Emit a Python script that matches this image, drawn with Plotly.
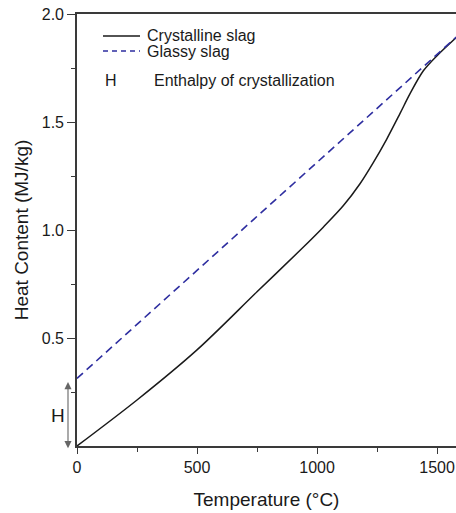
import plotly.graph_objects as go

# Data
glassy_T = [0, 1580]
glassy_H = [0.313, 1.893]

cryst_T = [0, 250, 500, 750, 936, 1026, 1110, 1179, 1235, 1290, 1346, 1387, 1443, 1499, 1580]
cryst_H = [0.0, 0.213, 0.445, 0.714, 0.913, 1.013, 1.113, 1.214, 1.313, 1.420, 1.540, 1.630, 1.737, 1.806, 1.891]

x_ticks = [0, 500, 1000, 1500]
y_ticks = [0.5, 1.0, 1.5, 2.0]
y_ticklabels = ["0.5", "1.0", "1.5", "2.0"]

enthalpy_bottom = 0.0
enthalpy_top = 0.313

FONT = "Liberation Sans, Arial, sans-serif"
AXC = "#3a3a3a"

fig = go.Figure()
fig.add_trace(go.Scatter(x=cryst_T, y=cryst_H, mode="lines",
                         line=dict(color="#1a1a1a", width=1.5, shape="spline", smoothing=0.9),
                         name="Crystalline slag", showlegend=False))
fig.add_trace(go.Scatter(x=glassy_T, y=glassy_H, mode="lines",
                         line=dict(color="#2e2ea0", width=1.6, dash="8px,5px"),
                         name="Glassy slag", showlegend=False))

# custom legend (paper coords)
def pxx(px):
    return (px - 77) / 379.0

def pxy(py):
    return (446 - py) / 432.0

fig.add_shape(type="line", xref="paper", yref="paper", x0=pxx(103), x1=pxx(140), y0=pxy(36), y1=pxy(36),
              line=dict(color="#1a1a1a", width=1.5))
fig.add_shape(type="line", xref="paper", yref="paper", x0=pxx(103), x1=pxx(140), y0=pxy(51), y1=pxy(51),
              line=dict(color="#2e2ea0", width=1.6, dash="5px,4px"))
legend_font = dict(family=FONT, size=16, color="#1a1a1a")
fig.add_annotation(xref="paper", yref="paper", x=pxx(145), y=pxy(35), text="Crystalline slag",
                   showarrow=False, xanchor="left", yanchor="middle", font=legend_font)
fig.add_annotation(xref="paper", yref="paper", x=pxx(145), y=pxy(52), text="Glassy slag",
                   showarrow=False, xanchor="left", yanchor="middle", font=legend_font)
fig.add_annotation(xref="paper", yref="paper", x=pxx(103), y=pxy(80), text="H",
                   showarrow=False, xanchor="left", yanchor="middle", font=legend_font)
fig.add_annotation(xref="paper", yref="paper", x=pxx(152), y=pxy(80), text="Enthalpy of crystallization",
                   showarrow=False, xanchor="left", yanchor="middle", font=legend_font)

# enthalpy double arrow
fig.add_annotation(xref="paper", yref="y", axref="pixel", ayref="y",
                   x=pxx(68), y=enthalpy_bottom - 0.01, ax=0, ay=enthalpy_top - 0.01,
                   text="", showarrow=True, arrowside="end+start", arrowhead=2, arrowsize=1.3,
                   arrowwidth=1.1, arrowcolor="#666666")
fig.add_annotation(xref="paper", yref="paper", x=pxx(57.5), y=pxy(415), text="H",
                   xanchor="center", yanchor="middle",
                   showarrow=False, font=dict(family=FONT, size=19, color="#1a1a1a"))

fig.update_layout(
    width=456, height=513,
    margin=dict(l=77, r=0, t=14, b=67),
    plot_bgcolor="white", paper_bgcolor="white",
    font=dict(family=FONT, color="#1a1a1a"),
    xaxis=dict(range=[0, 1579], tickvals=x_ticks, ticks="outside", ticklen=6, tickwidth=1.3,
               tickcolor=AXC, showline=True, linecolor=AXC, linewidth=1.6, mirror=True,
               showgrid=False, zeroline=False, tickfont=dict(size=16, family=FONT, color="#1a1a1a"),
               minor=dict(tickvals=[250, 750, 1250], ticks="outside", ticklen=4, tickcolor=AXC, tickwidth=1.3),
               title=dict(text="Temperature (°C)", font=dict(size=19, family=FONT), standoff=18)),
    yaxis=dict(range=[0, 2.0], tickvals=y_ticks, ticktext=y_ticklabels, ticks="outside", ticklen=8,
               tickwidth=1.3, tickcolor=AXC, showline=True, linecolor=AXC, linewidth=1.6, mirror=False,
               showgrid=False, zeroline=False, tickfont=dict(size=16, family=FONT, color="#1a1a1a"),
               minor=dict(tickvals=[0.25, 0.75, 1.25, 1.75], ticks="outside", ticklen=4, tickcolor=AXC, tickwidth=1.3),
               title=dict(text="Heat Content (MJ/kg)", font=dict(size=19, family=FONT), standoff=8)),
)

fig.write_html("out.html")
